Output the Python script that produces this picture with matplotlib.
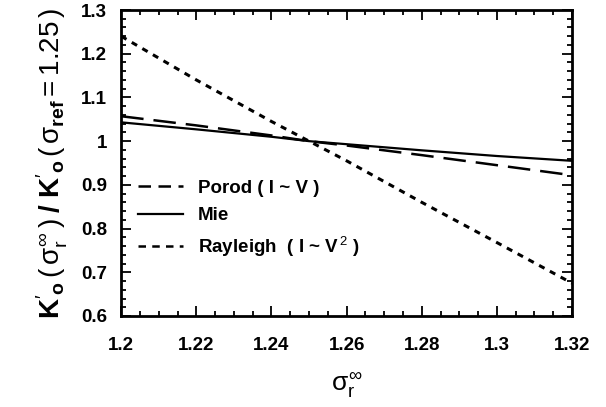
import matplotlib
matplotlib.use('Agg')
import matplotlib.pyplot as plt
from matplotlib.lines import Line2D
from matplotlib.ticker import MultipleLocator

plt.rcParams['font.family'] = ['Liberation Sans', 'DejaVu Sans']
plt.rcParams['mathtext.fontset'] = 'custom'
plt.rcParams['mathtext.rm'] = 'Liberation Sans'
plt.rcParams['mathtext.it'] = 'Liberation Sans'
plt.rcParams['mathtext.bf'] = 'Liberation Sans:bold'

# data
sigma = [1.20, 1.22, 1.24, 1.25, 1.26, 1.28, 1.30, 1.32]
porod = [1.057, 1.036, 1.013, 1.000, 0.990, 0.968, 0.945, 0.922]
mie = [1.043, 1.027, 1.010, 1.000, 0.993, 0.979, 0.966, 0.955]
rayleigh = [1.240, 1.140, 1.045, 1.000, 0.955, 0.860, 0.768, 0.675]

fig = plt.figure(figsize=(6.06, 4.07), dpi=100)
ax = fig.add_axes([0.2, 0.2236, 0.744, 0.7518])

ax.plot(sigma, porod, color='black', lw=1.8, dashes=(9, 4))
ax.plot(sigma, mie, color='black', lw=1.6)
ax.plot(sigma, rayleigh, color='black', lw=2.2, dashes=(2, 2))

ax.set_xlim(1.2, 1.32)
ax.set_ylim(0.6, 1.3)
ax.xaxis.set_major_locator(MultipleLocator(0.02))
ax.xaxis.set_minor_locator(MultipleLocator(0.005))
ax.yaxis.set_major_locator(MultipleLocator(0.1))
ax.yaxis.set_minor_locator(MultipleLocator(0.02))
ax.set_xticks([1.2, 1.22, 1.24, 1.26, 1.28, 1.3, 1.32])
ax.set_xticklabels(['1.2', '1.22', '1.24', '1.26', '1.28', '1.3', '1.32'])
ax.set_yticks([0.6, 0.7, 0.8, 0.9, 1.0, 1.1, 1.2, 1.3])
ax.set_yticklabels(['0.6', '0.7', '0.8', '0.9', '1', '1.1', '1.2', '1.3'])

ax.tick_params(which='both', direction='in', top=True, right=True, width=1.3)
ax.tick_params(which='major', length=7, labelsize=13.5)
ax.tick_params(axis='x', which='major', pad=15)
ax.tick_params(axis='y', which='major', pad=10)
ax.tick_params(which='minor', length=3.5)
for lab in ax.get_xticklabels() + ax.get_yticklabels():
    lab.set_fontweight('bold')
for sp in ax.spines.values():
    sp.set_linewidth(2)

ax.set_xlabel(r'$\sigma_r^{\infty}$', fontsize=19, labelpad=12)
ax.set_ylabel(r"$\mathbf{K}'_{\mathbf{o}}\,(\,\sigma_r^{\infty}\,)\;\mathbf{/}\;\mathbf{K}'_{\mathbf{o}}\,(\,\sigma_{\mathbf{ref}}=1.25\,)$",
              fontsize=20, labelpad=8)

handles = [
    Line2D([], [], color='black', lw=1.8, dashes=(5, 3)),
    Line2D([], [], color='black', lw=1.6),
    Line2D([], [], color='black', lw=1.8, dashes=(3, 2.5)),
]
labels = ['Porod ( I ~ V )', 'Mie', r'Rayleigh  ( I ~ V$^{\,2}$ )']
leg = ax.legend(handles, labels, loc='upper left', bbox_to_anchor=(0.0, 0.5),
                frameon=False, handlelength=2.4, handletextpad=0.8,
                labelspacing=0.55, prop={'weight': 'bold', 'size': 13.5})

fig.savefig('out.png', dpi=100)
